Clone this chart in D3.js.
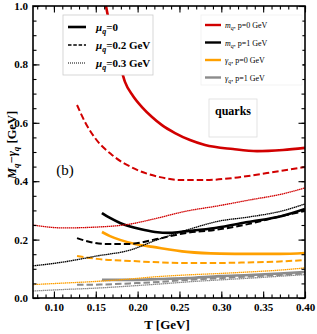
<!DOCTYPE html>
<html>
<head>
<meta charset="utf-8">
<script src="https://cdn.jsdelivr.net/npm/d3@7"></script>
<style>
  body { margin: 0; background: #fff; }
  text { font-family: "Liberation Serif", "Times New Roman", serif; font-weight: bold; }
</style>
</head>
<body>
<div class="container"></div>
<script>
// values, T in GeV, value in GeV

// m_q, p=0 GeV (red)
const mP0Mu0T = [0.160, 0.1622, 0.167, 0.173, 0.179, 0.1849, 0.1945, 0.2052, 0.2172, 0.2291, 0.2447, 0.2626, 0.2805, 0.314, 0.3427, 0.3737, 0.40];
const mP0Mu0  = [1.04, 1.00, 0.935, 0.866, 0.798, 0.740, 0.692, 0.654, 0.620, 0.592, 0.565, 0.541, 0.524, 0.510, 0.503, 0.507, 0.514];
const mP0Mu2T = [0.1276, 0.1371, 0.1491, 0.1694, 0.1969, 0.2268, 0.253, 0.2805, 0.314, 0.3546, 0.40];
const mP0Mu2  = [0.661, 0.603, 0.548, 0.490, 0.442, 0.414, 0.404, 0.404, 0.411, 0.428, 0.449];
const mP0Mu3T = [0.075, 0.1108, 0.1515, 0.1909, 0.2184, 0.259, 0.2949, 0.3343, 0.3725, 0.40];
const mP0Mu3  = [0.250, 0.240, 0.243, 0.253, 0.270, 0.298, 0.315, 0.336, 0.356, 0.377];

// m_q, p=1 GeV (black)
const mP1Mu0T = [0.1574, 0.167, 0.179, 0.2029, 0.2208, 0.2387, 0.259, 0.2925, 0.3319, 0.3725, 0.40];
const mP1Mu0  = [0.291, 0.274, 0.257, 0.236, 0.226, 0.223, 0.229, 0.240, 0.260, 0.281, 0.305];
const mP1Mu2T = [0.1276, 0.1431, 0.161, 0.1909, 0.2184, 0.259, 0.2925, 0.3319, 0.3725, 0.40];
const mP1Mu2  = [0.205, 0.192, 0.185, 0.185, 0.199, 0.223, 0.233, 0.253, 0.281, 0.298];
const mP1Mu3T = [0.075, 0.1108, 0.1515, 0.1909, 0.2232, 0.259, 0.2984, 0.3319, 0.3725, 0.40];
const mP1Mu3  = [0.110, 0.123, 0.144, 0.164, 0.199, 0.233, 0.264, 0.277, 0.298, 0.322];

// gamma_q, p=0 GeV (orange)
const gP0Mu0T = [0.1574, 0.167, 0.179, 0.1969, 0.2184, 0.259, 0.2984, 0.3343, 0.3701, 0.40];
const gP0Mu0  = [0.226, 0.212, 0.199, 0.185, 0.175, 0.158, 0.152, 0.151, 0.151, 0.154];
const gP0Mu2T = [0.1276, 0.1515, 0.1909, 0.2184, 0.259, 0.2984, 0.3319, 0.370, 0.40];
const gP0Mu2  = [0.144, 0.134, 0.127, 0.123, 0.120, 0.120, 0.122, 0.125, 0.130];
const gP0Mu3T = [0.075, 0.1108, 0.1515, 0.1909, 0.2184, 0.259, 0.2984, 0.3319, 0.3725, 0.40];
const gP0Mu3  = [0.046, 0.051, 0.057, 0.065, 0.072, 0.079, 0.084, 0.089, 0.096, 0.103];

// gamma_q, p=1 GeV (gray)
const gP1Mu0T = [0.1574, 0.1909, 0.2268, 0.259, 0.2984, 0.3343, 0.370, 0.40];
const gP1Mu0  = [0.062, 0.062, 0.065, 0.068, 0.075, 0.079, 0.084, 0.089];
const gP1Mu2T = [0.1276, 0.155, 0.1909, 0.2268, 0.259, 0.2984, 0.3343, 0.370, 0.40];
const gP1Mu2  = [0.045, 0.046, 0.050, 0.055, 0.062, 0.068, 0.074, 0.079, 0.084];
const gP1Mu3T = [0.075, 0.1108, 0.1515, 0.1909, 0.2268, 0.259, 0.2984, 0.3343, 0.3725, 0.40];
const gP1Mu3  = [0.024, 0.029, 0.034, 0.041, 0.048, 0.055, 0.062, 0.068, 0.075, 0.080];

const xTicks = [0.10, 0.15, 0.20, 0.25, 0.30, 0.35, 0.40];
const yTicks = [0.0, 0.2, 0.4, 0.6, 0.8, 1.0];

const muLegend = ["0", "0.2 GeV", "0.3 GeV"];
const curveLegend = [["m", "p=0 GeV"], ["m", "p=1 GeV"], ["γ", "p=0 GeV"], ["γ", "p=1 GeV"]];

const w = 317, h = 334;
const padL = 33, padR = 305, padT = 6, padB = 298;
const red = "#d10000", black = "#000", orange = "#ffa000", gray = "#8c8c8c";

const styles = {
  solid:  { width: 2.6, dash: null },
  dashed: { width: 2.0, dash: "6.5,3" },
  dotted: { width: 1.3, dash: "1.5,0.5" }
};

const series = [
  { t: gP1Mu3T, v: gP1Mu3, color: gray, style: "dotted" },
  { t: gP1Mu2T, v: gP1Mu2, color: gray, style: "dashed" },
  { t: gP1Mu0T, v: gP1Mu0, color: gray, style: "solid" },
  { t: gP0Mu3T, v: gP0Mu3, color: orange, style: "dotted" },
  { t: gP0Mu2T, v: gP0Mu2, color: orange, style: "dashed" },
  { t: gP0Mu0T, v: gP0Mu0, color: orange, style: "solid" },
  { t: mP1Mu3T, v: mP1Mu3, color: black, style: "dotted" },
  { t: mP1Mu2T, v: mP1Mu2, color: black, style: "dashed" },
  { t: mP1Mu0T, v: mP1Mu0, color: black, style: "solid" },
  { t: mP0Mu3T, v: mP0Mu3, color: red, style: "dotted" },
  { t: mP0Mu2T, v: mP0Mu2, color: red, style: "dashed" },
  { t: mP0Mu0T, v: mP0Mu0, color: red, style: "solid" }
];

const svg = d3.select(".container")
              .append("svg")
              .attr("width", w)
              .attr("height", h);

const x = d3.scaleLinear().domain([0.075, 0.40]).range([padL, padR]);
const y = d3.scaleLinear().domain([0, 1]).range([padB, padT]);

svg.append("defs").append("clipPath").attr("id", "plot-clip")
   .append("rect")
   .attr("x", padL).attr("y", padT)
   .attr("width", padR - padL).attr("height", padB - padT);

// curves
const line = d3.line()
               .x(d => x(d[0]))
               .y(d => y(d[1]))
               .curve(d3.curveMonotoneX);

svg.append("g")
   .attr("clip-path", "url(#plot-clip)")
   .selectAll("path")
   .data(series).enter()
   .append("path")
   .attr("d", s => line(s.t.map((t, i) => [t, s.v[i]])))
   .attr("fill", "none")
   .attr("stroke", s => s.color)
   .attr("stroke-width", s => styles[s.style].width)
   .attr("stroke-dasharray", s => styles[s.style].dash);

// axes, ticks inward on all four sides
const xMinor = d3.range(0.08, 0.4001, 0.01);
const yMinor = d3.range(0, 1.0001, 0.05);

function frameAxis(axisFn, scale, pos, vals, size, labels) {
  const ax = axisFn(scale).tickValues(vals).tickSize(-size).tickPadding(5);
  if (!labels) ax.tickFormat("");
  else ax.tickFormat(d3.format(labels));
  const g = svg.append("g").attr("transform", pos).call(ax);
  g.select(".domain").remove();
  g.selectAll("line").attr("stroke", "#000").attr("stroke-width", 1.1);
  g.selectAll("text").style("font-size", "11px").attr("fill", "#000");
  return g;
}

frameAxis(d3.axisBottom, x, `translate(0,${padB})`, xMinor, 3.5, null);
frameAxis(d3.axisBottom, x, `translate(0,${padB})`, xTicks, 6.5, ".2f").attr("id", "x-axis");
frameAxis(d3.axisTop, x, `translate(0,${padT})`, xMinor, 3.5, null);
frameAxis(d3.axisTop, x, `translate(0,${padT})`, xTicks, 6.5, null);
frameAxis(d3.axisLeft, y, `translate(${padL},0)`, yMinor, 3.5, null);
frameAxis(d3.axisLeft, y, `translate(${padL},0)`, yTicks, 6.5, ".1f").attr("id", "y-axis");
frameAxis(d3.axisRight, y, `translate(${padR},0)`, yMinor, 3.5, null);
frameAxis(d3.axisRight, y, `translate(${padR},0)`, yTicks, 6.5, null);

svg.append("rect")
   .attr("x", padL).attr("y", padT)
   .attr("width", padR - padL).attr("height", padB - padT)
   .attr("fill", "none").attr("stroke", "#000").attr("stroke-width", 1.6);

// axis titles
const xTitle = svg.append("text")
                  .attr("x", 167).attr("y", 329)
                  .attr("text-anchor", "middle")
                  .style("font-size", "13px")
                  .text("T [GeV]");

const yTitle = svg.append("text")
                  .attr("transform", "translate(16,145) rotate(-90)")
                  .attr("text-anchor", "middle")
                  .style("font-size", "12.5px");
yTitle.append("tspan").style("font-style", "italic").text("M");
yTitle.append("tspan").style("font-style", "italic").style("font-size", "9px").attr("dy", 3).text("q");
yTitle.append("tspan").attr("dy", -3).text("−");
yTitle.append("tspan").style("font-style", "italic").text("γ");
yTitle.append("tspan").style("font-style", "italic").style("font-size", "9px").attr("dy", 3).text("q");
yTitle.append("tspan").attr("dy", -3).text(" [GeV]");

// (b) label
svg.append("text")
   .attr("x", 65).attr("y", 175)
   .attr("text-anchor", "middle")
   .style("font-size", "15px")
   .style("font-weight", "normal")
   .text("(b)");

// mu legend
const leg1 = svg.append("g");
leg1.append("rect")
    .attr("x", 63).attr("y", 15).attr("width", 90).attr("height", 60)
    .attr("fill", "#fff").attr("stroke", "#ccc").attr("stroke-width", 0.8);
const legStyles = [
  { width: 2.6, dash: null },
  { width: 1.5, dash: "3.5,1.8" },
  { width: 1.0, dash: "1,1" }
];
muLegend.forEach((lab, i) => {
  const ly = 27 + i * 18;
  leg1.append("line")
      .attr("x1", 68).attr("x2", 86).attr("y1", ly).attr("y2", ly)
      .attr("stroke", "#000")
      .attr("stroke-width", legStyles[i].width)
      .attr("stroke-dasharray", legStyles[i].dash);
  const t = leg1.append("text").attr("x", 96).attr("y", ly + 4).style("font-size", "11px");
  t.append("tspan").style("font-style", "italic").text("μ");
  t.append("tspan").style("font-style", "italic").style("font-size", "8px").attr("dy", 2.5).text("q");
  t.append("tspan").attr("dy", -2.5).text("=" + lab);
});

// curve legend
const leg2 = svg.append("g");
leg2.append("rect")
    .attr("x", 201).attr("y", 15).attr("width", 101).attr("height", 70)
    .attr("fill", "#fff").attr("stroke", "#f0f0f0").attr("stroke-width", 0.8);
const legColors = [red, black, orange, gray];
curveLegend.forEach((lab, i) => {
  const ly = 25 + i * 17.5;
  leg2.append("line")
      .attr("x1", 205).attr("x2", 221).attr("y1", ly).attr("y2", ly)
      .attr("stroke", legColors[i]).attr("stroke-width", 2.4);
  const t = leg2.append("text").attr("x", 225).attr("y", ly + 3).style("font-size", "8px").style("font-weight", "normal");
  t.append("tspan").style("font-style", "italic").text(lab[0]);
  t.append("tspan").style("font-style", "italic").style("font-size", "6px").attr("dy", 2).text("q");
  t.append("tspan").attr("dy", -2).text(", " + lab[1]);
});

// quarks box
svg.append("rect")
   .attr("x", 209).attr("y", 99).attr("width", 48).attr("height", 38)
   .attr("fill", "#fff").attr("stroke", "#ddd").attr("stroke-width", 0.8);
svg.append("text")
   .attr("x", 233).attr("y", 115)
   .attr("text-anchor", "middle")
   .style("font-size", "12px")
   .text("quarks");
</script>
</body>
</html>
